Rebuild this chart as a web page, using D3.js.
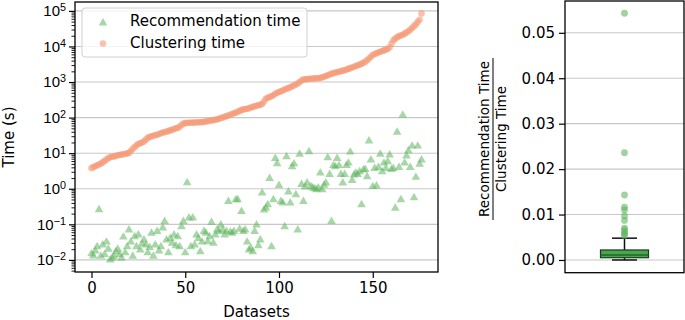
<!DOCTYPE html>
<html>
<head>
<meta charset="utf-8">
<script src="https://cdn.jsdelivr.net/npm/d3@7"></script>
<style>
  html, body { margin: 0; padding: 0; background: #fff; }
  svg { display: block; font-family: "DejaVu Sans", sans-serif; }
</style>
</head>
<body>
<svg id="chart" width="685" height="320"></svg>
<script>
// ---------- data ----------
const recommendationTime = [
  0.0148, 0.0129, 0.0178, 0.0234, 0.257, 0.0126, 0.0263, 0.0141, 0.0316, 0.02,
  0.01, 0.0112, 0.0126, 0.017, 0.02, 0.0141, 0.0112, 0.0437, 0.0158, 0.0234,
  0.0692, 0.0316, 0.0126, 0.0447, 0.0234, 0.0501, 0.0191, 0.0282, 0.0363, 0.0263,
  0.0158, 0.0224, 0.0562, 0.0126, 0.0263, 0.0631, 0.0178, 0.0234, 0.0794, 0.12,
  0.0363, 0.0158, 0.0398, 0.0295, 0.0501, 0.0251, 0.0447, 0.0234, 0.0851, 0.12,
  0.0158, 1.48, 0.151, 0.0234, 0.151, 0.0263, 0.0501, 0.0398, 0.017, 0.0316,
  0.0631, 0.0562, 0.0324, 0.0447, 0.112, 0.0295, 0.0501, 0.0692, 0.0631, 0.0955,
  0.0692, 0.0501, 0.0631, 0.437, 0.0603, 0.0562, 0.0631, 0.49, 0.49, 0.0724,
  0.229, 0.0631, 0.0692, 0.0316, 0.0191, 0.0214, 0.017, 0.0631, 0.0955, 0.0251,
  0.0363, 0.759, 0.251, 0.288, 0.355, 1.95, 0.0234, 0.49, 7.08, 5.01,
  1.23, 0.437, 0.398, 0.0851, 7.94, 0.813, 0.398, 4.17, 5.01, 0.676,
  0.0692, 9.33, 1.32, 0.437, 1.12, 1.45, 11.0, 1.15, 1.05, 1.0,
  0.933, 1.05, 2.75, 0.933, 1.26, 1.45, 7.41, 2.51, 0.12, 4.47,
  4.17, 7.08, 4.47, 2.51, 1.45, 2.51, 4.47, 5.25, 10.7, 1.7,
  2.45, 2.75, 2.51, 3.02, 0.355, 3.39, 3.47, 2.19, 21.9, 6.46,
  1.15, 3.72, 1.2, 3.98, 9.33, 3.02, 5.25, 3.72, 5.75, 8.91,
  3.47, 3.72, 0.282, 38.9, 3.98, 0.49, 117, 5.25, 8.32, 11.7,
  3.98, 15.8, 0.562, 2.09, 15.8, 4.9, 6.46
];
const clusteringTime = [
  3.8, 4.07, 4.27, 4.57, 4.79, 5.13, 5.5, 6.03, 6.61, 7.24,
  7.76, 7.94, 8.13, 8.32, 8.71, 8.91, 9.12, 9.33, 9.55, 9.77,
  10.2, 11.5, 13.2, 14.8, 16.6, 18.2, 19.1, 20, 21.4, 24,
  26.9, 28.8, 29.5, 30.9, 32.4, 33.1, 34.7, 36.3, 38, 38.9,
  40.7, 41.7, 43.7, 45.7, 47.9, 50.1, 51.3, 55, 61.7, 67.6,
  70.8, 71.2, 71.6, 72.0, 72.4, 72.8, 73.2, 73.6, 74.0, 74.5,
  75.9, 77.6, 79.4, 81.3, 83.2, 85.1, 87.1, 89.1, 93.3, 97.7,
  100, 105, 110, 115, 120, 126, 132, 138, 145, 155,
  162, 170, 174, 178, 182, 191, 200, 209, 214, 224,
  229, 240, 282, 339, 363, 380, 398, 427, 468, 501,
  525, 550, 575, 617, 646, 676, 708, 759, 794, 851,
  912, 1000, 1096, 1175, 1202, 1210, 1230, 1240, 1259, 1265,
  1270, 1288, 1295, 1349, 1413, 1479, 1549, 1622, 1698, 1778,
  1820, 1905, 1950, 1995, 2089, 2138, 2239, 2344, 2455, 2570,
  2692, 2818, 2951, 3090, 3236, 3467, 3715, 4074, 4571, 5129,
  5754, 6166, 6457, 6761, 7079, 7413, 7762, 8128, 8511, 9550,
  12000, 14800, 16600, 18200, 19500, 20400, 21400, 22900, 24500, 26900,
  29500, 33100, 37200, 41700, 49000, 56200, 85100
];
const xTicks = [0, 50, 100, 150];
const yLogTickExponents = [-2, -1, 0, 1, 2, 3, 4, 5];
const ratioTicks = [0.00, 0.01, 0.02, 0.03, 0.04, 0.05];
// box statistics: [lower whisker, Q1, median, Q3, upper whisker]
const ratioBoxStats = [0.0000, 0.0005, 0.0011, 0.0022, 0.0048];
const ratioOutliers = [0.0543, 0.0236, 0.0143, 0.0116, 0.0110, 0.0097, 0.0087, 0.0070, 0.0066, 0.0061, 0.0057, 0.0054];
const legendLabels = ["Recommendation time", "Clustering time"];

// ---------- styling ----------
const GREEN = "#5fb55f", ORANGE = "#f59a76";
const FONT = 15;
const svg = d3.select("#chart");

// ---------- left panel ----------
const L = {left: 75, right: 438, top: 2, bottom: 272};
const x = d3.scaleLinear().domain([-8.8, 184.8]).range([L.left, L.right]);
const y = d3.scaleLog().domain([Math.pow(10, -2.34), Math.pow(10, 5.25)]).range([L.bottom, L.top]);

const gL = svg.append("g");
gL.selectAll("line.grid").data(yLogTickExponents).join("line")
  .attr("x1", L.left).attr("x2", L.right)
  .attr("y1", d => y(Math.pow(10, d))).attr("y2", d => y(Math.pow(10, d)))
  .attr("stroke", "#c8c8c8").attr("stroke-width", 1.1);

const idx = d3.range(clusteringTime.length);
gL.append("g").selectAll("circle").data(idx).join("circle")
  .attr("cx", i => x(i)).attr("cy", i => y(clusteringTime[i]))
  .attr("r", 3.3).attr("fill", ORANGE).attr("fill-opacity", 0.6);
const tri = d3.symbol(d3.symbolTriangle, 32);
gL.append("g").selectAll("path").data(idx).join("path")
  .attr("d", tri)
  .attr("transform", i => `translate(${x(i)},${y(recommendationTime[i])})`)
  .attr("fill", GREEN).attr("fill-opacity", 0.55);

const xAxis = d3.axisBottom(x).tickValues(xTicks).tickSize(6).tickPadding(4).tickFormat(d3.format("d"));
const gx = gL.append("g").attr("transform", `translate(0,${L.bottom})`).call(xAxis);
gx.select(".domain").remove();
gx.selectAll("text").attr("font-size", FONT).attr("font-family", "DejaVu Sans").attr("fill", "#000");
gx.selectAll("line").attr("stroke", "#000").attr("stroke-width", 1.2);

const minorVals = [];
for (let e = -3; e <= 5; e++) for (let m = 2; m <= 9; m++) {
  const v = m * Math.pow(10, e);
  if (v >= y.domain()[0] && v <= y.domain()[1]) minorVals.push(v);
}
const gyMinor = gL.append("g").attr("transform", `translate(${L.left},0)`)
  .call(d3.axisLeft(y).tickValues(minorVals).tickSize(3.5).tickFormat(""));
gyMinor.select(".domain").remove();
gyMinor.selectAll("line").attr("stroke", "#000").attr("stroke-width", 0.9);

const gy = gL.append("g").attr("transform", `translate(${L.left},0)`)
  .call(d3.axisLeft(y).tickValues(yLogTickExponents.map(e => Math.pow(10, e))).tickSize(6).tickFormat(""));
gy.select(".domain").remove();
gy.selectAll("line").attr("stroke", "#000").attr("stroke-width", 1.2);
gy.selectAll(".tick").each(function(d) {
  const e = Math.round(Math.log10(d));
  const t = d3.select(this).append("text")
    .attr("x", -9).attr("dy", "0.32em")
    .attr("text-anchor", "end").attr("font-size", FONT).attr("fill", "#000");
  t.append("tspan").text("10");
  t.append("tspan").attr("dy", "-0.45em").attr("font-size", FONT * 0.72)
    .text(String(e).replace("-", "\u2212"));
});

gL.append("rect").attr("x", L.left).attr("y", L.top)
  .attr("width", L.right - L.left).attr("height", L.bottom - L.top)
  .attr("fill", "none").attr("stroke", "#000").attr("stroke-width", 1.3);

gL.append("text").attr("x", (L.left + L.right) / 2).attr("y", 317)
  .attr("text-anchor", "middle").attr("font-size", FONT).text("Datasets");
gL.append("text").attr("transform", `translate(14,${(L.top + L.bottom) / 2}) rotate(-90)`)
  .attr("text-anchor", "middle").attr("font-size", FONT).text("Time (s)");

const lg = gL.append("g");
lg.append("rect").attr("x", 82).attr("y", 8).attr("width", 225).attr("height", 49)
  .attr("rx", 3).attr("fill", "#fff").attr("fill-opacity", 0.8)
  .attr("stroke", "#d0d0d0").attr("stroke-width", 1);
lg.append("path").attr("d", tri).attr("transform", "translate(103,23)")
  .attr("fill", GREEN).attr("fill-opacity", 0.55);
lg.append("circle").attr("cx", 103).attr("cy", 43.5).attr("r", 3.3)
  .attr("fill", ORANGE).attr("fill-opacity", 0.6);
lg.selectAll("text").data(legendLabels).join("text")
  .attr("x", 130).attr("y", (d, i) => 26 + i * 21.5)
  .attr("font-size", FONT).text(d => d);

// ---------- right panel ----------
const R = {left: 565, right: 684, top: 1, bottom: 272.7};
const yr = d3.scaleLinear().domain([-0.0028, 0.0570]).range([R.bottom, R.top]);
const xr = d3.scaleBand().domain(["ratio"]).range([R.left, R.right]).paddingInner(0).paddingOuter(0);
const gR = svg.append("g");
gR.selectAll("line.grid").data(ratioTicks).join("line")
  .attr("x1", R.left).attr("x2", R.right)
  .attr("y1", d => yr(d)).attr("y2", d => yr(d))
  .attr("stroke", "#c8c8c8").attr("stroke-width", 1.1);

const cx = xr("ratio") + xr.bandwidth() / 2;
const boxW = 48, capW = 25;
const [wLo, q1, med, q3, wHi] = ratioBoxStats;
gR.append("line").attr("x1", cx).attr("x2", cx).attr("y1", yr(q3)).attr("y2", yr(wHi))
  .attr("stroke", "#111").attr("stroke-width", 1.5);
gR.append("line").attr("x1", cx).attr("x2", cx).attr("y1", yr(q1)).attr("y2", yr(wLo))
  .attr("stroke", "#111").attr("stroke-width", 1.5);
[wLo, wHi].forEach(v => gR.append("line")
  .attr("x1", cx - capW / 2).attr("x2", cx + capW / 2).attr("y1", yr(v)).attr("y2", yr(v))
  .attr("stroke", "#111").attr("stroke-width", 1.5));
gR.append("rect").attr("x", cx - boxW / 2).attr("y", yr(q3))
  .attr("width", boxW).attr("height", yr(q1) - yr(q3))
  .attr("fill", "#46a84e").attr("stroke", "#1a3a1c").attr("stroke-width", 1.2);
gR.append("line").attr("x1", cx - boxW / 2).attr("x2", cx + boxW / 2)
  .attr("y1", yr(med)).attr("y2", yr(med)).attr("stroke", "#24632a").attr("stroke-width", 1.5);
gR.selectAll("circle.out").data(ratioOutliers).join("circle")
  .attr("cx", cx).attr("cy", d => yr(d)).attr("r", 3.4)
  .attr("fill", GREEN).attr("fill-opacity", 0.6);

const gyr = gR.append("g").attr("transform", `translate(${R.left},0)`)
  .call(d3.axisLeft(yr).tickValues(ratioTicks).tickSize(6).tickPadding(4).tickFormat(d3.format(".2f")));
gyr.select(".domain").remove();
gyr.selectAll("text").attr("font-size", FONT).attr("font-family", "DejaVu Sans").attr("fill", "#000");
gyr.selectAll("line").attr("stroke", "#000").attr("stroke-width", 1.2);

gR.append("rect").attr("x", R.left).attr("y", R.top)
  .attr("width", R.right - R.left).attr("height", R.bottom - R.top)
  .attr("fill", "none").attr("stroke", "#000").attr("stroke-width", 1.3);

const fy = 139;
const frac = gR.append("g").attr("transform", `translate(0,${fy})`);
frac.append("text").attr("transform", "translate(489,0) rotate(-90)")
  .attr("text-anchor", "middle").attr("font-size", 13.5).text("Recommendation Time");
frac.append("line").attr("x1", 493).attr("x2", 493).attr("y1", -81).attr("y2", 81)
  .attr("stroke", "#000").attr("stroke-width", 1);
frac.append("text").attr("transform", "translate(506,0) rotate(-90)")
  .attr("text-anchor", "middle").attr("font-size", 13.5).text("Clustering Time");
</script>
</body>
</html>
